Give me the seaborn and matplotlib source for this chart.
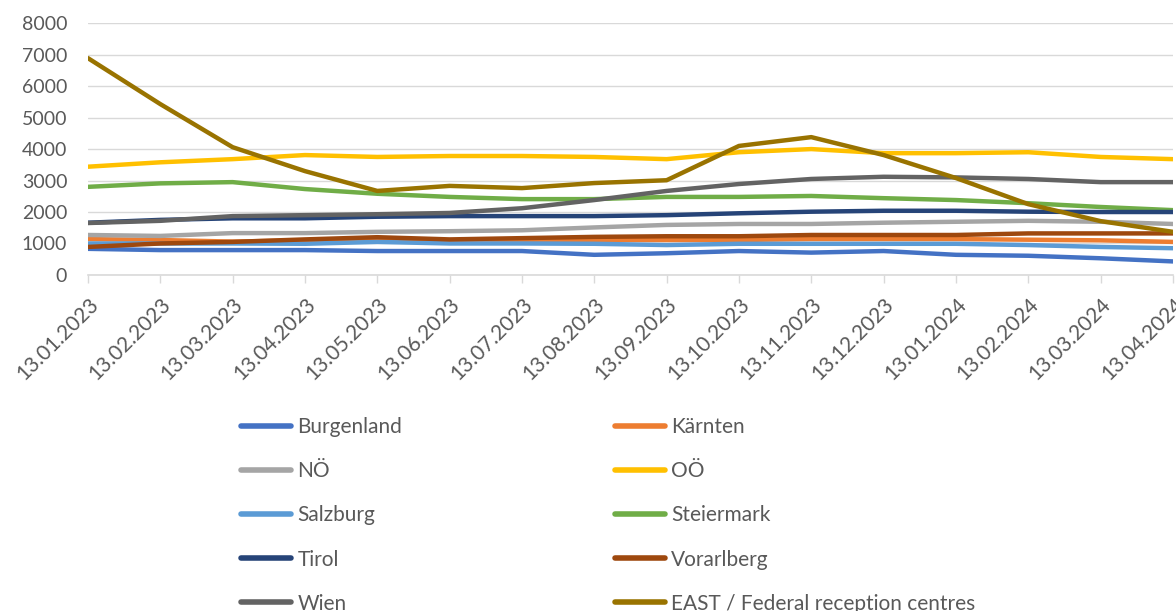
import matplotlib
matplotlib.use("Agg")
import matplotlib.pyplot as plt
import pandas as pd
import seaborn as sns

dates = ["13.01.2023", "13.02.2023", "13.03.2023", "13.04.2023", "13.05.2023", "13.06.2023",
         "13.07.2023", "13.08.2023", "13.09.2023", "13.10.2023", "13.11.2023", "13.12.2023",
         "13.01.2024", "13.02.2024", "13.03.2024", "13.04.2024"]

burgenland = [830, 790, 790, 790, 760, 760, 760, 640, 690, 760, 710, 760, 640, 610, 530, 430]
kaernten = [1140, 1110, 1060, 1100, 1110, 1100, 1110, 1110, 1110, 1110, 1140, 1140, 1140, 1120, 1100, 1050]
noe = [1270, 1240, 1330, 1330, 1370, 1390, 1420, 1510, 1590, 1620, 1620, 1660, 1690, 1720, 1690, 1620]
ooe = [3440, 3580, 3680, 3810, 3750, 3780, 3780, 3750, 3680, 3900, 4000, 3870, 3870, 3900, 3750, 3680]
salzburg = [1000, 1000, 1000, 990, 1050, 1000, 1000, 990, 950, 990, 990, 990, 990, 950, 890, 850]
steiermark = [2800, 2910, 2950, 2730, 2580, 2480, 2410, 2410, 2480, 2480, 2510, 2440, 2380, 2280, 2160, 2060]
tirol = [1660, 1750, 1800, 1800, 1850, 1870, 1870, 1870, 1900, 1960, 2010, 2040, 2040, 2010, 2000, 2000]
vorarlberg = [890, 1000, 1050, 1130, 1200, 1130, 1170, 1210, 1230, 1230, 1270, 1270, 1270, 1320, 1320, 1320]
wien = [1650, 1720, 1870, 1900, 1930, 1970, 2120, 2380, 2670, 2890, 3050, 3120, 3100, 3050, 2950, 2950]
east = [6890, 5430, 4060, 3300, 2670, 2830, 2760, 2920, 3010, 4100, 4380, 3810, 3080, 2250, 1710, 1370]

series = {
    "Burgenland": burgenland,
    "Kärnten": kaernten,
    "NÖ": noe,
    "OÖ": ooe,
    "Salzburg": salzburg,
    "Steiermark": steiermark,
    "Tirol": tirol,
    "Vorarlberg": vorarlberg,
    "Wien": wien,
    "EAST / Federal reception centres": east,
}
colors = ["#4472C4", "#ED7D31", "#A5A5A5", "#FFC000", "#5B9BD5",
          "#70AD47", "#264478", "#9E480E", "#636363", "#997300"]

rows = []
for name, values in series.items():
    for i, v in enumerate(values):
        rows.append({"pos": i, "series": name, "value": v})
df = pd.DataFrame(rows)

sns.set_theme(style="white")
plt.rcParams["font.family"] = ["Lato", "DejaVu Sans"]

fig = plt.figure(figsize=(11.76, 6.11), dpi=100)
ax = fig.add_axes([0.0748, 0.55, 0.9226, 0.412])

sns.lineplot(data=df, x="pos", y="value", hue="series", palette=colors,
             linewidth=3.2, ax=ax, legend=True)

ax.set_xlim(0, len(dates) - 1)
ax.set_ylim(0, 8000)
ax.set_yticks(range(0, 8001, 1000))
ax.yaxis.grid(True, color="#D9D9D9", linewidth=1)
ax.set_axisbelow(True)
for s in ["top", "right", "left"]:
    ax.spines[s].set_visible(False)
ax.spines["bottom"].set_color("#D9D9D9")
ax.spines["bottom"].set_linewidth(1.2)
ax.set_xlabel("")
ax.set_ylabel("")
ax.set_xticks(range(len(dates)))
ax.set_xticklabels(dates, rotation=45, ha="right", rotation_mode="anchor")
ax.tick_params(axis="x", length=6, width=1, color="#D9D9D9", labelsize=15,
               labelcolor="#595959", pad=8, bottom=True)
ax.tick_params(axis="y", length=0, labelsize=14, labelcolor="#595959", pad=15)

handles, labels = ax.get_legend_handles_labels()
ax.get_legend().remove()
order = [0, 2, 4, 6, 8, 1, 3, 5, 7, 9]
leg = fig.legend([handles[i] for i in order], [labels[i] for i in order],
                 ncol=2, loc="upper left", bbox_to_anchor=(0.189, 0.348),
                 frameon=False, fontsize=15, handlelength=2.4, handletextpad=0.3,
                 columnspacing=10.2, labelspacing=1.16)
for t in leg.get_texts():
    t.set_color("#595959")
for h in leg.get_lines():
    h.set_linewidth(4)

fig.savefig("out.png", dpi=100)
